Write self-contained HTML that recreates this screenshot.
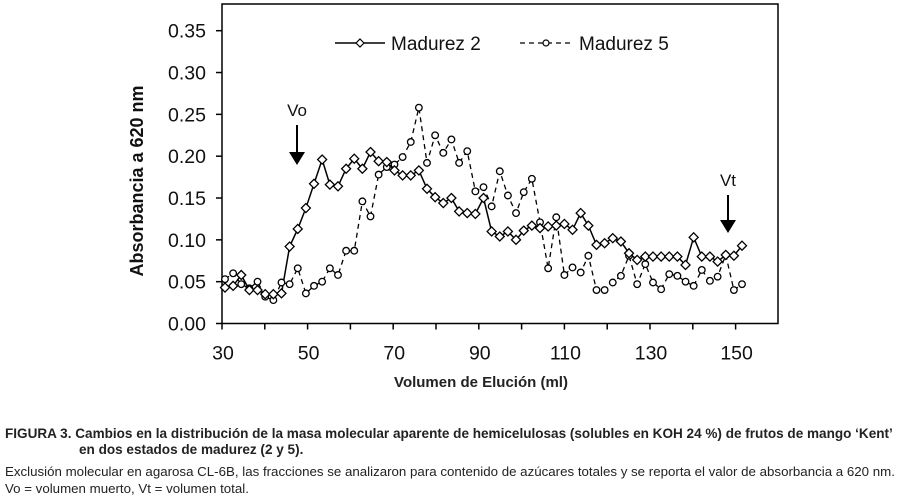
<!DOCTYPE html>
<html><head><meta charset="utf-8"><style>
body{margin:0;background:#fff;width:898px;height:499px;overflow:hidden;font-family:"Liberation Sans",Arial,sans-serif}
.cap{position:absolute;left:5px;font-size:13.3px;line-height:15px;color:#222;white-space:nowrap}
.capb{font-size:13.55px;font-weight:bold}
</style></head><body>
<svg id="chart" width="898" height="400" style="position:absolute;left:0;top:0" font-family="Liberation Sans, Arial, sans-serif"></svg>
<div class="cap capb" style="top:426px">FIGURA 3. Cambios en la distribución de la masa molecular aparente de hemicelulosas (solubles en KOH 24 %) de frutos de mango ‘Kent’</div>
<div class="cap capb" style="top:442px;left:79px">en dos estados de madurez (2 y 5).</div>
<div class="cap" style="top:464px">Exclusión molecular en agarosa CL-6B, las fracciones se analizaron para contenido de azúcares totales y se reporta el valor de absorbancia a 620 nm.</div>
<div class="cap" style="top:481px">Vo = volumen muerto, Vt = volumen total.</div>
<script>
const volumes=[30.7,32.6,34.5,36.4,38.3,40.1,42.0,43.9,45.8,47.7,49.6,51.5,53.4,55.2,57.1,59.0,60.9,62.8,64.7,66.6,68.5,70.3,72.2,74.1,76.0,77.9,79.8,81.7,83.6,85.4,87.3,89.2,91.1,93.0,94.9,96.8,98.7,100.5,102.4,104.3,106.2,108.1,110.0,111.9,113.8,115.6,117.5,119.4,121.3,123.2,125.1,127.0,128.9,130.7,132.6,134.5,136.4,138.3,140.2,142.1,144.0,145.8,147.7,149.6,151.5];
const madurez2=[0.043,0.045,0.058,0.040,0.040,0.035,0.035,0.036,0.092,0.113,0.138,0.167,0.196,0.166,0.164,0.185,0.197,0.185,0.205,0.194,0.193,0.183,0.177,0.177,0.183,0.161,0.151,0.144,0.150,0.134,0.132,0.131,0.150,0.110,0.104,0.110,0.100,0.111,0.117,0.114,0.116,0.117,0.119,0.112,0.132,0.117,0.094,0.096,0.102,0.098,0.084,0.076,0.080,0.080,0.080,0.080,0.080,0.070,0.103,0.080,0.080,0.074,0.082,0.081,0.093];
const madurez5=[0.053,0.060,0.047,0.042,0.050,0.032,0.028,0.049,0.047,0.066,0.036,0.045,0.050,0.066,0.058,0.087,0.087,0.146,0.128,0.178,0.187,0.190,0.199,0.217,0.258,0.192,0.225,0.204,0.220,0.192,0.206,0.158,0.163,0.140,0.182,0.153,0.132,0.157,0.173,0.121,0.066,0.127,0.058,0.067,0.061,0.081,0.040,0.040,0.049,0.057,0.081,0.047,0.071,0.049,0.041,0.059,0.057,0.050,0.045,0.064,0.051,0.056,0.082,0.040,0.047];
const xTicks=[30,50,70,90,110,130,150];
const xMinorTicks=[40,60,80,100,120,140];
const yTicks=[0,0.05,0.10,0.15,0.20,0.25,0.30,0.35];
const L=222,R=778,T=4,B=323.5;
const xs=v=>L+(v-30)*4.28;
const ys=v=>B-v*(B-30.7)/0.35;
const svg=document.getElementById('chart');
const NS='http://www.w3.org/2000/svg';
function mk(tag,attrs,parent){const e=document.createElementNS(NS,tag);for(const k in attrs)e.setAttribute(k,attrs[k]);(parent||svg).appendChild(e);return e;}
let e;
e=mk('rect',{x:L,y:T,width:R-L,height:B-T,fill:'none',stroke:'#000','stroke-width':1.5});


yTicks.forEach(t=>{
  e=mk('line',{x1:L-6,x2:L,y1:ys(t),y2:ys(t),stroke:'#000','stroke-width':1.5});
  
  
  e=mk('text',{x:L-16,y:ys(t)+7,'text-anchor':'end','font-size':19.5,fill:'#111'});e.textContent=t.toFixed(2);
  
  
});
xTicks.concat(xMinorTicks).forEach(t=>{
  e=mk('line',{x1:xs(t),x2:xs(t),y1:B,y2:B+6,stroke:'#000','stroke-width':1.5});
  
  
});
xTicks.forEach(t=>{
  e=mk('text',{x:xs(t)+1,y:B+36,'text-anchor':'middle','font-size':19.5,fill:'#111'});e.textContent=t;
  
  
});
e=mk('text',{x:481,y:387,'text-anchor':'middle','font-size':15,'font-weight':'bold',fill:'#222'});e.textContent='Volumen de Elución (ml)';


e=mk('text',{x:0,y:0,'text-anchor':'middle','font-size':18,'font-weight':'bold',fill:'#111',transform:'translate(143,181) rotate(-90)'});e.textContent='Absorbancia a 620 nm';


e=mk('polyline',{points:volumes.map((v,i)=>xs(v)+','+ys(madurez5[i])).join(' '),fill:'none',stroke:'#000','stroke-width':1.3,'stroke-dasharray':'5,4'});


e=mk('polyline',{points:volumes.map((v,i)=>xs(v)+','+ys(madurez2[i])).join(' '),fill:'none',stroke:'#000','stroke-width':1.5});


volumes.forEach((v,i)=>{
  e=mk('circle',{cx:xs(v),cy:ys(madurez5[i]),r:3.3,fill:'#fff',stroke:'#000','stroke-width':1.3});
  
  
});
volumes.forEach((v,i)=>{
  const x=xs(v),y=ys(madurez2[i]);
  e=mk('polygon',{points:`${x},${y-4.5} ${x+4.5},${y} ${x},${y+4.5} ${x-4.5},${y}`,fill:'#fff',stroke:'#000','stroke-width':1.3});
  
  
});
e=mk('line',{x1:335,x2:385,y1:43,y2:43,stroke:'#000','stroke-width':1.5});


e=mk('polygon',{points:'360,39 364,43 360,47 356,43',fill:'#fff',stroke:'#000','stroke-width':1.2});


e=mk('text',{x:391,y:50,'font-size':19,fill:'#111'});e.textContent='Madurez 2';


e=mk('line',{x1:520,x2:572,y1:43,y2:43,stroke:'#000','stroke-width':1.3,'stroke-dasharray':'5,4'});


e=mk('circle',{cx:546,cy:43,r:3,fill:'#fff',stroke:'#000','stroke-width':1.2});


e=mk('text',{x:579,y:50,'font-size':19,fill:'#111'});e.textContent='Madurez 5';


e=mk('text',{x:297,y:116,'text-anchor':'middle','font-size':17,fill:'#111'});e.textContent='Vo';


e=mk('line',{x1:297,x2:297,y1:125,y2:155,stroke:'#000','stroke-width':2});


e=mk('polygon',{points:'289,152 305,152 297,165',fill:'#000'});


e=mk('text',{x:728,y:186,'text-anchor':'middle','font-size':17,fill:'#111'});e.textContent='Vt';


e=mk('line',{x1:728,x2:728,y1:195,y2:223,stroke:'#000','stroke-width':2});


e=mk('polygon',{points:'720,220 736,220 728,233',fill:'#000'});


</script>
</body></html>
